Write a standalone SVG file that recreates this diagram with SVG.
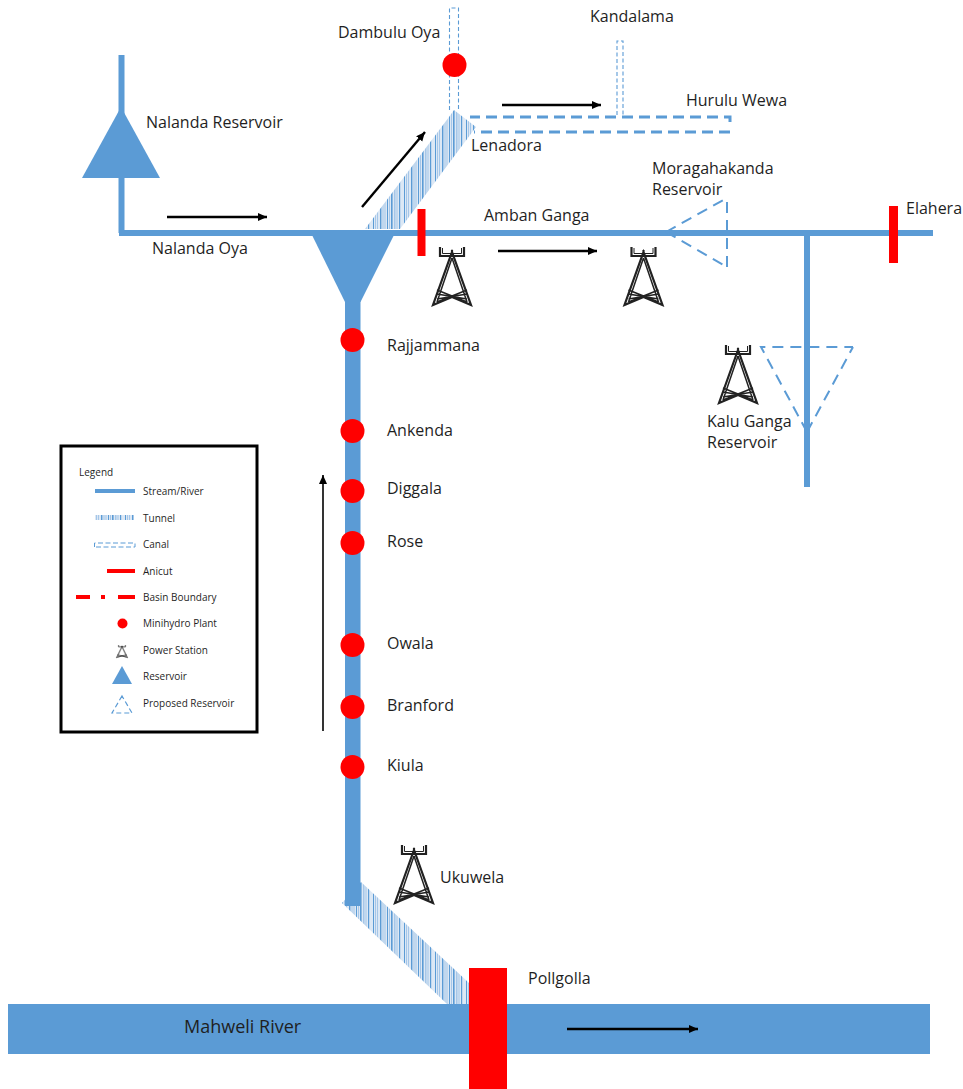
<svg xmlns="http://www.w3.org/2000/svg" width="963" height="1089" viewBox="0 0 963 1089">
<style>
text{font-family:"Open Sans","Noto Sans","Liberation Sans",sans-serif;font-size:16px;fill:#1f1f1f}
.lg{font-size:10px}
.river{fill:#5b9bd5}
.s{stroke:#5b9bd5;stroke-width:6;fill:none}
.red{fill:#f00}
.c3{stroke:#5b9bd5;stroke-width:3;fill:none;stroke-dasharray:11 6}
.c2{stroke:#5b9bd5;stroke-width:2;fill:none;stroke-dasharray:11 7}
.c1{stroke:#5b9bd5;stroke-width:1.1;fill:none;stroke-dasharray:4 2.5}
.a{stroke:#000;stroke-width:2.4;fill:none;marker-end:url(#ah)}
.t{fill:none;stroke:#222}
</style>
<defs>
<marker id="ah" markerUnits="userSpaceOnUse" markerWidth="10" markerHeight="9" refX="9" refY="4" orient="auto"><path d="M0 0L9 4L0 8Z" fill="#000"/></marker>
<pattern id="tun" patternUnits="userSpaceOnUse" width="31" height="8">
<rect width="31" height="8" fill="#dce8f5"/>
<path d="M1 0h1v8H1zM8 0h1.400v8H8zM15 0h1v8H15zM19 0h1.600v8H19zM27 0h1.200v8H27z" fill="#5b9bd5"/>
<path d="M3 0h1v8H3zM5 0h1v8H5zM10.500 0h1v8h-1zM12.500 0h1v8h-1zM17 0h1v8h-1zM22 0h1.500v8H22zM24.500 0h1v8h-1z" fill="#a5c6e8"/>
</pattern>
<g id="tower">
<path class="t" style="stroke-width:2.200" d="M-12 0V9H12V0"/>
<path class="t" style="stroke-width:1" d="M-9.500 1V6.500H9.500V1"/>
<path class="t" style="stroke-width:2.200" d="M0 9V3M0 5L-19 58L0 50L19 58Z"/>
<path class="t" style="stroke-width:1.500" d="M0 11L-15 55M0 11L15 55M-15 43L15 55M15 43L-15 55M-15 47L15 52M15 47L-15 52"/>
</g>
</defs>
<g id="connectors">
<rect id="river-mahaweli" class="river" x="8" y="1004" width="922" height="50"/>
<polygon fill="url(#tun)" points="342,903 361,882 469,983 469,1004 447,1004"/>
<polygon fill="url(#tun)" points="365,229 449,117 454,110 476,127 400,229"/>
<path class="s" d="M121.500 55V233M119 233H933M807 233V487"/>
<rect class="river" x="345" y="300" width="15.500" height="606"/>
<path class="c1" d="M449.500 110V8H458.500V110M617 115V41H623V115"/>
<path class="c3" d="M730 122V117H470M730 132H474"/>
<path class="a" d="M167 217H267"/>
<path class="a" d="M362 207L425 132"/>
<path class="a" d="M502 105H601"/>
<path class="a" d="M498 251H597"/>
<path class="a" style="stroke-width:1.6" d="M323 731V475"/>
<path class="a" d="M567 1029H698"/>
</g>
<g id="nalanda-reservoir"><polygon class="river" points="121,107 82,178 160,178"/><text x="146" y="128">Nalanda Reservoir</text></g>
<g id="junction-reservoir"><polygon class="river" points="311,233 395,233 360.500,302 345,302"/></g>
<g id="moragahakanda"><path class="c2" d="M727 267V196M666 232L727 198M666 232L727 267"/><text x="652" y="174">Moragahakanda</text><text x="652" y="195">Reservoir</text></g>
<g id="kalu-ganga"><path class="c2" d="M807 432L761 347H853M807 432L853 347"/><use href="#tower" x="738" y="345"/><text x="707" y="427">Kalu Ganga</text><text x="707" y="448">Reservoir</text></g>
<g id="dambulu"><circle class="red" cx="454.500" cy="65" r="12"/><text x="338" y="38">Dambulu Oya</text></g>
<g id="labels">
<text x="590" y="22">Kandalama</text>
<text x="686" y="106">Hurulu Wewa</text>
<text x="471" y="151">Lenadora</text>
<text x="484" y="221">Amban Ganga</text>
<text x="152" y="254">Nalanda Oya</text>
</g>
<g id="anicut-amban"><rect class="red" x="417.500" y="209" width="8" height="47"/></g>
<g id="elahera"><rect class="red" x="889" y="206" width="9" height="57"/><text x="906" y="214">Elahera</text></g>
<g id="tower-1"><use href="#tower" x="452" y="247"/></g>
<g id="tower-2"><use href="#tower" x="643.500" y="247"/></g>
<g id="rajjammana"><circle class="red" cx="352.500" cy="340" r="12"/><text x="387" y="351">Rajjammana</text></g>
<g id="ankenda"><circle class="red" cx="352.500" cy="431" r="12"/><text x="387" y="436">Ankenda</text></g>
<g id="diggala"><circle class="red" cx="352.500" cy="491" r="12"/><text x="387" y="494">Diggala</text></g>
<g id="rose"><circle class="red" cx="352.500" cy="543" r="12"/><text x="387" y="547">Rose</text></g>
<g id="owala"><circle class="red" cx="352.500" cy="645" r="12"/><text x="387" y="649">Owala</text></g>
<g id="branford"><circle class="red" cx="352.500" cy="707" r="12"/><text x="387" y="711">Branford</text></g>
<g id="kiula"><circle class="red" cx="352.500" cy="767" r="12"/><text x="387" y="771">Kiula</text></g>
<g id="ukuwela"><use href="#tower" x="414" y="845"/><text x="440" y="883">Ukuwela</text></g>
<g id="pollgolla"><rect class="red" x="469" y="968" width="38" height="121"/><text x="528" y="984">Pollgolla</text></g>
<text x="184" y="1033" style="font-size:18px">Mahweli River</text>
<g id="legend">
<rect x="61" y="446" width="196" height="286" fill="#fff" stroke="#000" stroke-width="3"/>
<text class="lg" x="79" y="476">Legend</text>
<rect class="river" x="95" y="489" width="40" height="4"/><text class="lg" x="143" y="495">Stream/River</text>
<rect fill="url(#tun)" x="95" y="515" width="39" height="5"/><text class="lg" x="143" y="522">Tunnel</text>
<path d="M94.500 547V543H135V547H94.500" fill="none" stroke="#5b9bd5" stroke-width="1" stroke-dasharray="5 2.500"/><text class="lg" x="143" y="548">Canal</text>
<rect class="red" x="107" y="569" width="28" height="4"/><text class="lg" x="143" y="575">Anicut</text>
<path d="M76 597H90M101 597H105M118 597H135" stroke="#f00" stroke-width="4" fill="none"/><text class="lg" x="143" y="601">Basin Boundary</text>
<circle class="red" cx="122.500" cy="623.500" r="5"/><text class="lg" x="143" y="627">Minihydro Plant</text>
<use href="#tower" transform="translate(122 645) scale(.3 .22)"/><text class="lg" x="143" y="654">Power Station</text>
<polygon class="river" points="122,666 112,684 132,684"/><text class="lg" x="143" y="680">Reservoir</text>
<path d="M122 696L112 713H132Z" fill="none" stroke="#5b9bd5" stroke-width="1.200" stroke-dasharray="5 3"/><text class="lg" x="143" y="707">Proposed Reservoir</text>
</g>
</svg>
